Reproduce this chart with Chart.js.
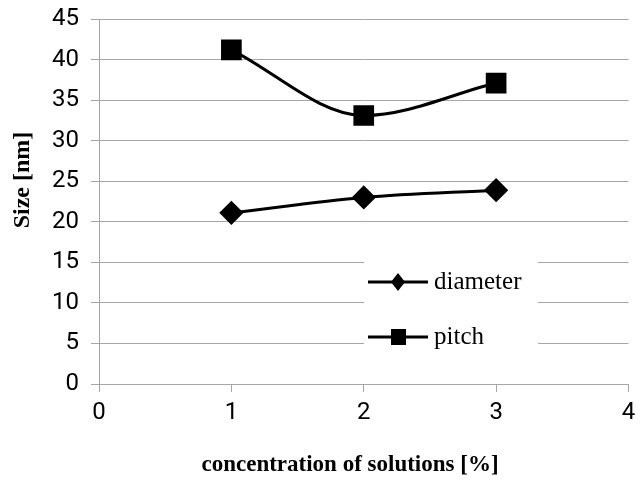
<!DOCTYPE html>
<html lang="en">
<head>
    <meta charset="UTF-8">
    <title>Size vs concentration</title>
    <script src="https://cdn.jsdelivr.net/npm/chart.js"></script>
    <style>
        html, body { margin: 0; padding: 0; background: #fff; }
        #wrap { width: 644px; height: 493px; }
    </style>
</head>
<body>
    <div id="wrap"><canvas id="chart"></canvas></div>
    <script>
        // values
        const concentrations = [1, 2, 3];
        const diameter = [21.1, 23.0, 23.9];
        const pitch = [41.2, 33.1, 37.1];
        const seriesNames = ['diameter', 'pitch'];
        const xTitle = 'concentration of solutions [%]';
        const yTitle = 'Size [nm]';

        const gridGray = '#a6a6a6';
        const tickFont = { family: 'Roboto, "Noto Sans", sans-serif', size: 24 };
        const serif = '"Liberation Serif", "Times New Roman", serif';

        function toPoints(values) {
            return concentrations.map((c, i) => ({ x: c, y: values[i] }));
        }

        // axis titles + legend inside the plot with a white box, like the original
        const extras = {
            id: 'extras',
            afterDatasetsDraw(chart) {
                const ctx = chart.ctx;
                ctx.save();
                ctx.fillStyle = '#fff';
                ctx.fillRect(364, 246, 174, 118);
                const rows = [282, 337];
                chart.data.datasets.forEach((ds, i) => {
                    const y = rows[i];
                    ctx.strokeStyle = '#000';
                    ctx.lineWidth = 3;
                    ctx.beginPath();
                    ctx.moveTo(368, y);
                    ctx.lineTo(428, y);
                    ctx.stroke();
                    ctx.fillStyle = '#000';
                    if (ds.pointStyle === 'rectRot') {
                        ctx.beginPath();
                        ctx.moveTo(398, y - 9);
                        ctx.lineTo(405, y);
                        ctx.lineTo(398, y + 9);
                        ctx.lineTo(391, y);
                        ctx.closePath();
                        ctx.fill();
                    } else {
                        ctx.fillRect(391, y - 8, 15, 16);
                    }
                    ctx.font = '25px ' + serif;
                    ctx.textAlign = 'left';
                    ctx.textBaseline = 'middle';
                    ctx.fillText(ds.label, 434, y);
                });

                ctx.fillStyle = '#000';
                ctx.textAlign = 'center';
                ctx.textBaseline = 'middle';
                ctx.font = 'bold 23px ' + serif;
                ctx.fillText(xTitle, 350, 465);
                ctx.translate(23, 180);
                ctx.rotate(-Math.PI / 2);
                ctx.font = 'bold 24px ' + serif;
                ctx.fillText(yTitle, 0, 0);
                ctx.restore();
            }
        };

        const lineStyle = {
            borderColor: '#000',
            backgroundColor: '#000',
            borderWidth: 3,
            cubicInterpolationMode: 'monotone'
        };

        new Chart(document.getElementById('chart'), {
            type: 'line',
            data: {
                datasets: [{
                    ...lineStyle,
                    label: seriesNames[0],
                    data: toPoints(diameter),
                    pointStyle: 'rectRot',
                    pointRadius: 10,
                    pointHoverRadius: 10
                }, {
                    ...lineStyle,
                    label: seriesNames[1],
                    data: toPoints(pitch),
                    pointStyle: 'rect',
                    pointRadius: 12.5,
                    pointHoverRadius: 12.5
                }]
            },
            options: {
                responsive: true,
                maintainAspectRatio: false,
                animation: false,
                layout: { padding: { top: 19, right: 12, left: 0, bottom: 0 } },
                plugins: {
                    legend: { display: false },
                    tooltip: { enabled: false }
                },
                scales: {
                    x: {
                        type: 'linear',
                        min: 0,
                        max: 4,
                        ticks: { stepSize: 1, color: '#000', font: tickFont, padding: 7 },
                        grid: { drawOnChartArea: false, drawTicks: true, tickLength: 8, color: gridGray },
                        border: { color: gridGray, width: 1 },
                        afterFit(scale) {
                            scale.height = 109;
                            scale.paddingRight = 0;
                        }
                    },
                    y: {
                        min: 0,
                        max: 45,
                        ticks: { stepSize: 5, color: '#000', font: tickFont, padding: 12 },
                        grid: { color: gridGray, drawTicks: true, tickLength: 8 },
                        border: { color: gridGray, width: 1 },
                        afterFit(scale) {
                            scale.width = 99;
                            scale.paddingTop = 0;
                            scale.paddingBottom = 0;
                        }
                    }
                }
            },
            plugins: [extras]
        });
    </script>
</body>
</html>
